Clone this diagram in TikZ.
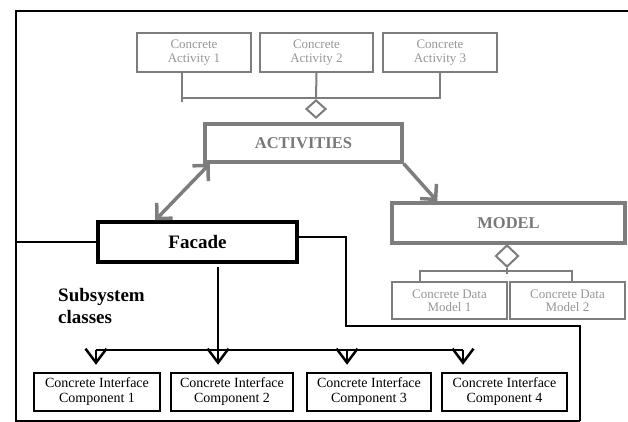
\documentclass[tikz,border=0pt]{standalone}
\usepackage{fontspec}
\setmainfont{Liberation Serif}
\usetikzlibrary{arrows.meta,positioning,shapes.geometric}
\definecolor{umlgray}{RGB}{125,125,125}
\definecolor{umllight}{RGB}{150,150,150}
\definecolor{umltext}{RGB}{120,120,120}

\begin{document}
\begin{tikzpicture}[x=1pt, y=-1pt,
  actbox/.style={draw=umlgray, line width=2pt, text=umllight, minimum height=39pt, align=center, inner sep=0pt, font=\fontsize{13}{14.5}\selectfont},
  mainbox/.style={draw=umlgray, line width=3.5pt, text=umltext, inner sep=0pt, font=\fontsize{16.5}{18}\selectfont\bfseries},
  facbox/.style={draw=black, line width=3.5pt, minimum width=199pt, minimum height=40pt, inner sep=0pt, font=\fontsize{19}{21}\selectfont\bfseries},
  ifbox/.style={draw=black, line width=2.5pt, minimum height=38pt, align=center, inner sep=0pt, font=\fontsize{14}{15}\selectfont},
  agg/.style={draw=umlgray, line width=2pt, diamond, inner sep=0pt, fill=white},
  agglink/.style={umlgray, line width=2pt},
  link/.style={black, line width=2pt},
  dep/.style={black, line width=2.5pt, -{Straight Barb[length=14pt, width=21pt]}},
  nav/.style={umlgray, line width=3.5pt, -{Straight Barb[length=11pt, width=22pt]}},
  navboth/.style={umlgray, line width=3.5pt, {Straight Barb[length=11pt, width=22pt]}-{Straight Barb[length=11pt, width=22pt]}}
]
  \useasboundingbox (0,0) rectangle (628,422);

  % activities side
  \node[actbox, minimum width=114pt] (act1) at (194,52.5) {Concrete\\Activity 1};
  \node[actbox, minimum width=113pt] (act2) at (316.5,52.5) {Concrete\\Activity 2};
  \node[actbox, minimum width=114pt] (act3) at (440,52.5) {Concrete\\Activity 3};
  \node[agg, minimum width=20pt, minimum height=18pt] (aggact) at (316,109) {};
  \node[mainbox, minimum width=197pt, minimum height=38pt] (activities) at (303.5,143) {ACTIVITIES};

  % model side
  \node[mainbox, minimum width=233pt, minimum height=40pt] (model) at (508.5,223) {MODEL};
  \node[agg, minimum width=23pt, minimum height=22pt] (aggmod) at (507,256) {};
  \node[actbox, minimum width=115pt, minimum height=37pt, font=\fontsize{13}{13}\selectfont] (data1) at (449.5,300.5) {Concrete Data\\Model 1};
  \node[actbox, minimum width=115pt, minimum height=37pt, font=\fontsize{13}{13}\selectfont] (data2) at (567.5,300.5) {Concrete Data\\Model 2};

  % facade and subsystem
  \node[facbox] (facade) at (197.5,242) {Facade};
  \node[anchor=west, align=left, inner sep=0pt, font=\fontsize{19}{22}\selectfont\bfseries] (subsys) at (58,306) {Subsystem\\classes};
  \node[ifbox, minimum width=126pt] (comp1) at (97,392) {Concrete Interface\\Component 1};
  \node[ifbox, minimum width=122pt] (comp2) at (232,392) {Concrete Interface\\Component 2};
  \node[ifbox, minimum width=124pt] (comp3) at (369,392) {Concrete Interface\\Component 3};
  \node[ifbox, minimum width=125pt] (comp4) at (504.5,392) {Concrete Interface\\Component 4};

  % aggregation lines
  \draw[agglink] ([xshift=-12pt]act1.south) -- ++(0,29);
  \draw[agglink] ([xshift=-12pt]act1.south) ++(0,25) -| (act3.south);
  \draw[agglink] (act2.south) -- (aggact.north);
  \draw[agglink] (aggmod.south) -- ++(0,6);
  \draw[agglink] ([xshift=-29.5pt]data1.north) -- ++(0,-10) -| ([xshift=4.5pt]data2.north);

  % navigation arrows
  \draw[navboth] ([xshift=6.5pt]activities.south west) -- ([xshift=59pt]facade.north west);
  \draw[nav] (activities.south east) -- ([xshift=47pt]model.north west);

  % frame
  \draw[link, line width=2.5pt] (15.5,11) -- (628,11);
  \draw[link] (15.5,10) -- (15.5,421) -- (580,421);
  \draw[link] (15.5,242) -- (facade.west);
  \draw[link] ([yshift=5pt]facade.east) -| (346,326) -| (580,421);

  % subsystem links
  \coordinate (hub) at (218,350);
  \draw[link] ([xshift=20.5pt, yshift=-3pt]facade.south) -- (hub);
  \draw[link] (96,350) -- (463,350);
  \foreach \n/\dx in {comp1/-1, comp2/-14, comp3/-22, comp4/-41.5}
    \draw[dep, shorten >=7pt] ([xshift=\dx pt, yshift=21.75pt]\n.north) -- ([xshift=\dx pt]\n.north);
\end{tikzpicture}
\end{document}
